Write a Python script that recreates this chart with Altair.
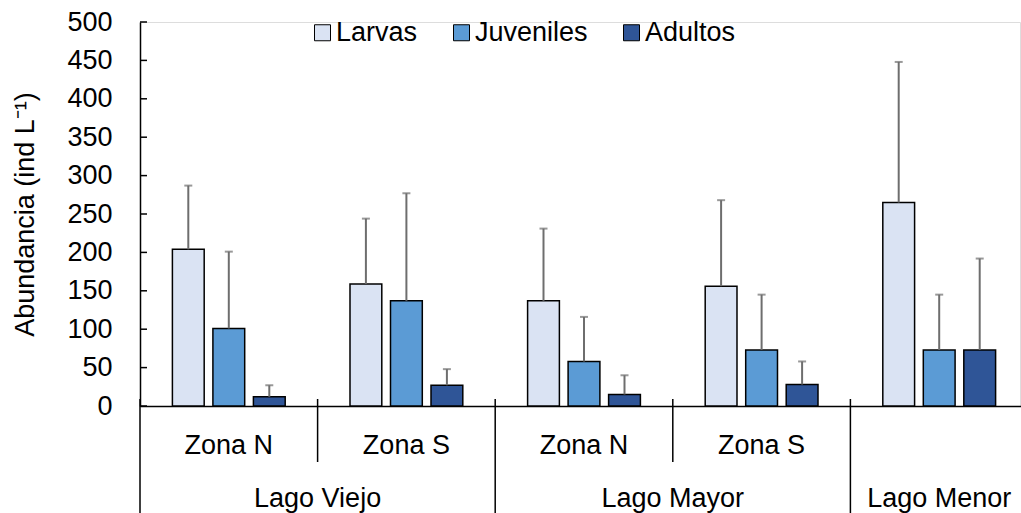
import altair as alt
import pandas as pd

# Sampling sites (lake / zone) in display order
sites = ["LV_N", "LV_S", "LM_N", "LM_S", "LMe"]
zone_names = ["Zona N", "Zona S", "Zona N", "Zona S"]
zone_sites = ["LV_N", "LV_S", "LM_N", "LM_S"]
lake_pair_sites = ["LV_N", "LM_N"]
lake_pair_names = ["Lago Viejo", "Lago Mayor"]

stages = ["Larvas", "Juveniles", "Adultos"]
stage_colors = ["#DAE3F3", "#5B9BD5", "#2F5597"]

# Mean abundance and upper end of the error bar (ind L-1)
larvas = [204, 159, 137, 156, 265]
larvas_upper = [287, 244, 231, 268, 448]
juveniles = [101, 137, 58, 73, 73]
juveniles_upper = [201, 277, 116, 145, 145]
adultos = [12, 27, 15, 28, 73]
adultos_upper = [27, 48, 40, 58, 192]

y_ticks = list(range(0, 501, 50))

rows = []
for stage, vals, ups in [("Larvas", larvas, larvas_upper),
                         ("Juveniles", juveniles, juveniles_upper),
                         ("Adultos", adultos, adultos_upper)]:
    for s, v, u in zip(sites, vals, ups):
        rows.append({"site": s, "stage": stage, "value": v, "upper": u})
df = pd.DataFrame(rows)

FONT = "Liberation Sans"
FS = 27
H = 384
W = 880
X_RANGE = 888  # category axis runs on past the right edge of the page

xscale = alt.Scale(domain=sites, paddingInner=0, paddingOuter=0, range=[0, X_RANGE])
x_axis = alt.Axis(labels=False, ticks=False, title=None, domainColor="black",
                  domainWidth=1.5, grid=False)
xo = alt.XOffset("stage:N", scale=alt.Scale(domain=stages, paddingInner=0.215,
                                            paddingOuter=0.8))
yscale = alt.Scale(domain=[0, 500], nice=False, zero=True)
y_axis = alt.Axis(values=y_ticks, ticks=False, tickSize=0, labelPadding=28,
                  grid=False, domainColor="black", domainWidth=1.5,
                  title="Abundancia (ind L⁻¹)", titlePadding=27,
                  labelFont=FONT, labelFontSize=FS, labelColor="black",
                  titleFont=FONT, titleFontSize=FS, titleColor="black",
                  titleFontWeight="normal")

base = alt.Chart(df)

bars = base.mark_bar(stroke="black", strokeWidth=1.5).encode(
    x=alt.X("site:N", scale=xscale, axis=x_axis),
    xOffset=xo,
    y=alt.Y("value:Q", scale=yscale, axis=y_axis),
    color=alt.Color("stage:N", scale=alt.Scale(domain=stages, range=stage_colors),
                    legend=alt.Legend(orient="none", legendX=169, legendY=-3,
                                      direction="horizontal", title=None,
                                      padding=0,
                                      symbolType="square", symbolSize=256,
                                      symbolStrokeColor="black", symbolStrokeWidth=1,
                                      labelFont=FONT, labelFontSize=FS,
                                      labelColor="black", columnPadding=30,
                                      labelOffset=0)),
)

err = base.mark_rule(color="#6E6E6E", strokeWidth=2).encode(
    x=alt.X("site:N", scale=xscale, axis=x_axis),
    xOffset=xo,
    y=alt.Y("value:Q", scale=yscale, axis=y_axis),
    y2="upper:Q",
)

caps = base.mark_tick(color="#6E6E6E", thickness=2, size=8, orient="horizontal").encode(
    x=alt.X("site:N", scale=xscale, axis=x_axis),
    xOffset=xo,
    y=alt.Y("upper:Q", scale=yscale, axis=y_axis),
)

# inward tick marks on the value axis
yticks = alt.Chart(pd.DataFrame({"t": y_ticks})).mark_rule(
    color="black", strokeWidth=1.5).encode(
    y=alt.Y("t:Q", scale=yscale, axis=y_axis),
    x=alt.value(0), x2=alt.value(7),
)

# category separators below the baseline
short_div = alt.Chart(pd.DataFrame({"site": ["LV_S", "LM_S"]})).mark_rule(
    color="black", strokeWidth=1.5).encode(
    x=alt.X("site:N", scale=xscale, axis=x_axis, bandPosition=0),
    y=alt.value(H - 7), y2=alt.value(H + 56),
)
long_div = alt.Chart(pd.DataFrame({"site": ["LV_N", "LM_N", "LMe"]})).mark_rule(
    color="black", strokeWidth=1.5).encode(
    x=alt.X("site:N", scale=xscale, axis=x_axis, bandPosition=0),
    y=alt.value(H - 7), y2=alt.value(H + 107),
)

zone_text = alt.Chart(pd.DataFrame({"site": zone_sites, "label": zone_names})).mark_text(
    font=FONT, fontSize=FS, color="black", baseline="middle").encode(
    x=alt.X("site:N", scale=xscale, axis=x_axis, bandPosition=0.5),
    y=alt.value(H + 40), text="label:N",
)
lake_text = alt.Chart(pd.DataFrame({"site": lake_pair_sites, "label": lake_pair_names})).mark_text(
    font=FONT, fontSize=FS, color="black", baseline="middle").encode(
    x=alt.X("site:N", scale=xscale, axis=x_axis, bandPosition=1),
    y=alt.value(H + 93), text="label:N",
)
menor_text = alt.Chart(pd.DataFrame({"site": ["LMe"], "label": ["Lago Menor"]})).mark_text(
    font=FONT, fontSize=FS, color="black", baseline="middle").encode(
    x=alt.X("site:N", scale=xscale, axis=x_axis, bandPosition=0.5),
    y=alt.value(H + 93), text="label:N",
)

chart = alt.layer(bars, err, caps, yticks, short_div, long_div,
                  zone_text, lake_text, menor_text).properties(
    width=W, height=H,
    padding={"left": 140, "top": 22, "right": 1, "bottom": 107},
    autosize=alt.AutoSizeParams(type="none"),
).configure_view(stroke=None).configure(background="white")

chart.save("out.html", embed_options={"renderer": "svg", "actions": False})
